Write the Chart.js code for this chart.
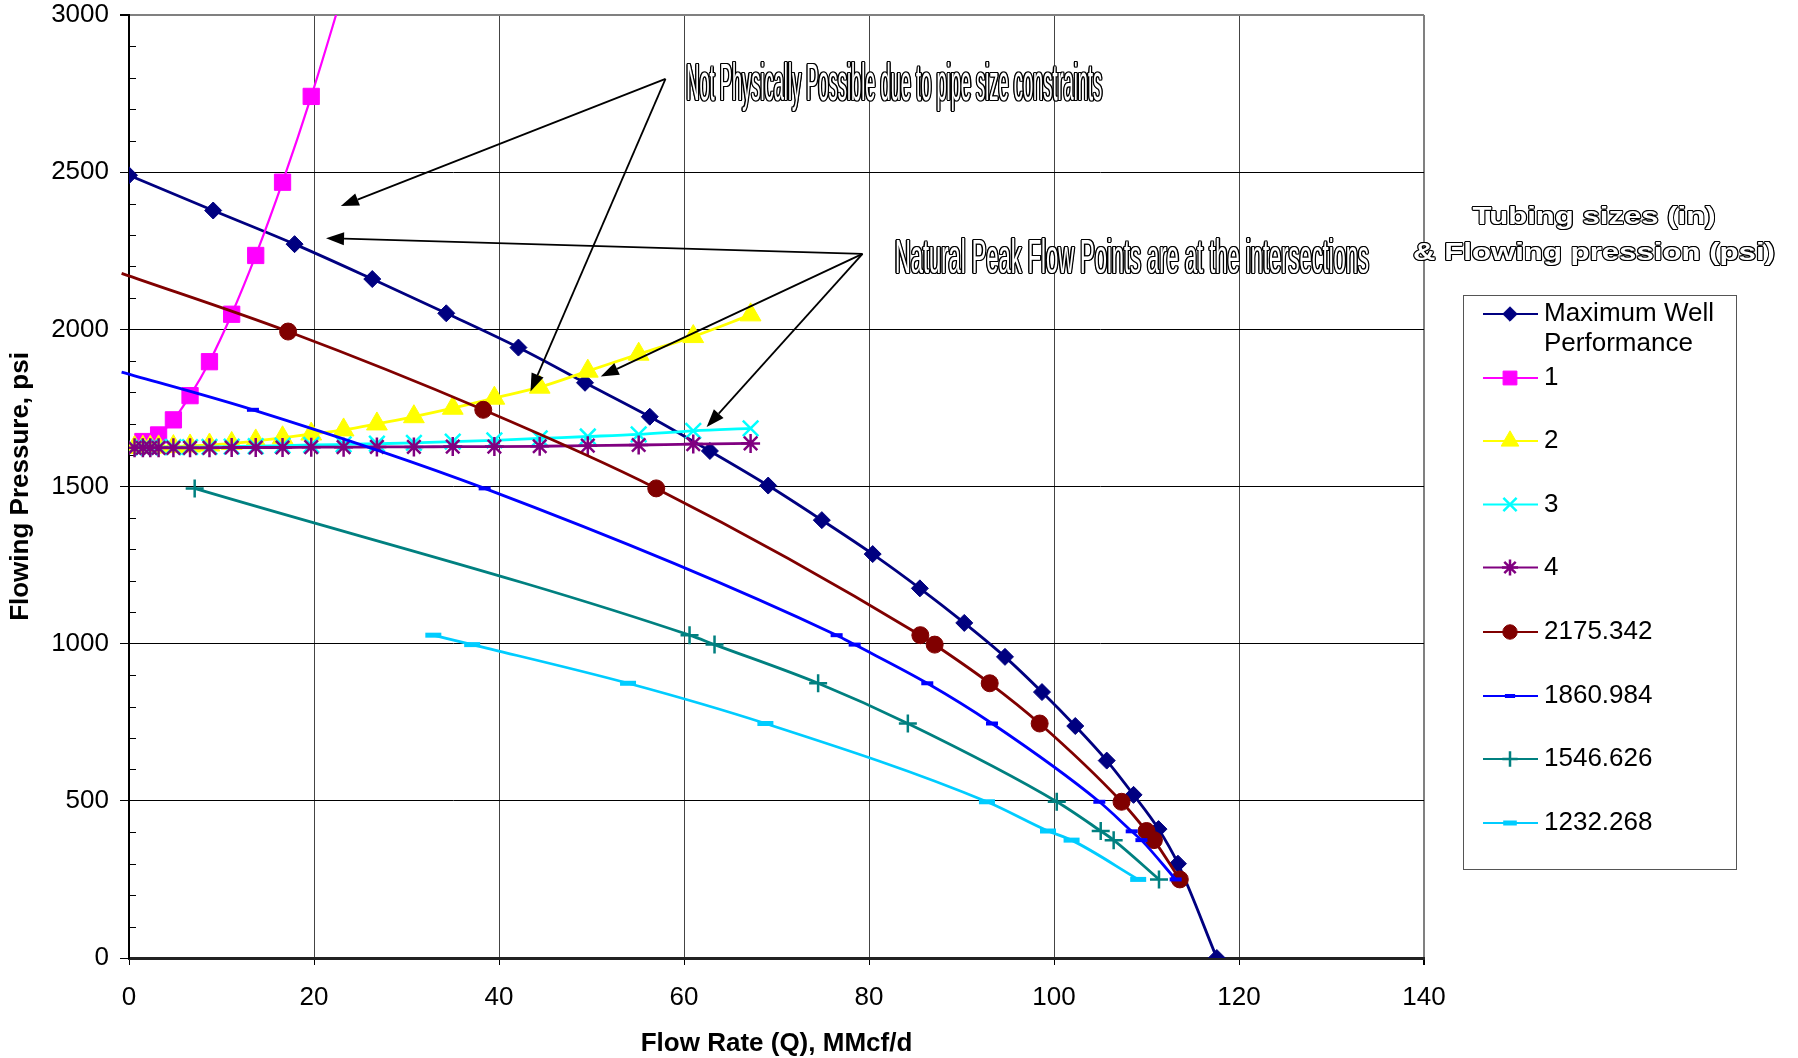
<!DOCTYPE html>
<html><head><meta charset="utf-8">
<script src="https://cdn.jsdelivr.net/npm/chart.js@4/dist/chart.umd.min.js"></script>
<style>html,body{margin:0;padding:0;background:#fff;overflow:hidden}canvas{display:block}</style>
</head><body>
<canvas id="c" width="1798" height="1058"></canvas>
<script>
// ---------------- DATA ----------------
const seriesNames = ['Maximum Well Performance', '1', '2', '3', '4', '2175.342', '1860.984', '1546.626', '1232.268'];
const xTicks = [0, 20, 40, 60, 80, 100, 120, 140];
const yTicks = [0, 500, 1000, 1500, 2000, 2500, 3000];

const mwpQ = [0, 9.1, 17.9, 26.3, 34.3, 42.1, 49.3, 56.3, 62.8, 69.1, 74.9, 80.4, 85.5, 90.3, 94.7, 98.7, 102.3, 105.7, 108.6, 111.3, 113.4, 117.6];
const mwpP = [2490, 2378, 2271, 2160, 2051, 1942, 1830, 1722, 1613, 1503, 1393, 1285, 1176, 1066, 958, 846, 738, 628, 519, 410, 300, 0];

const tube1Q = [1.5, 3.2, 4.8, 6.6, 8.7, 11.1, 13.7, 16.6, 19.7, 23.2];
const tube1P = [1643, 1664, 1712, 1789, 1897, 2048, 2235, 2468, 2741, 3080];

const tubeQ = [0.6, 1.5, 2.3, 3.2, 4.8, 6.6, 8.7, 11.1, 13.7, 16.6, 19.7, 23.2, 26.8, 30.8, 35.0, 39.5, 44.4, 49.6, 55.1, 61.0, 67.2];
const tube2P = [1624, 1625, 1625, 1626, 1627, 1629, 1632, 1637, 1645, 1655, 1667, 1680, 1699, 1722, 1749, 1781, 1816, 1867, 1921, 1977, 2046];
const tube3P = [1624, 1624, 1624, 1625, 1625, 1625, 1626, 1627, 1628, 1630, 1632, 1634, 1636, 1639, 1643, 1647, 1653, 1659, 1666, 1677, 1685];
const tube4P = [1623, 1623, 1623, 1623, 1623, 1623, 1623, 1624, 1624, 1624, 1625, 1625, 1626, 1626, 1627, 1627, 1628, 1630, 1632, 1635, 1637];

const p2175Q = [-0.8, 17.2, 38.3, 57.0, 85.55, 87.1, 93.05, 98.45, 107.3, 110.0, 110.8, 113.6];
const p2175P = [2178, 1993, 1744, 1494, 1027, 997, 874, 746, 497, 404, 375, 250];

const p1861Q = [-0.8, 13.4, 38.45, 76.5, 78.45, 86.3, 93.3, 104.9, 108.4, 109.45, 113.15];
const p1861P = [1864, 1744, 1494, 1027, 997, 874, 746, 497, 403, 375, 250];

const p1547Q = [7.1, 60.6, 63.3, 74.5, 84.2, 100.3, 105.05, 106.45, 111.35];
const p1547P = [1494, 1027, 997, 874, 746, 497, 404, 375, 250];

const p1232Q = [32.9, 37.1, 53.95, 68.8, 92.75, 99.35, 101.9, 109.1];
const p1232P = [1027, 997, 874, 746, 497, 404, 375, 250];

// annotation arrows (data coordinates)
const arrowFromQ = [58.0, 58.0, 79.3, 79.3, 79.3];
const arrowFromP = [2797, 2797, 2240, 2240, 2240];
const arrowToQ = [22.9, 43.4, 21.3, 51.0, 62.45];
const arrowToP = [2392, 1802, 2290, 1850, 1689];
const noteTexts = ['Not Physically Possible due to pipe size constraints', 'Natural Peak Flow Points are at the intersections'];
const noteQ = [60.24, 82.8];
const noteP = [2730, 2179];

const legendTitle = ['Tubing sizes (in)', '& Flowing pression (psi)'];

// ---------------- STYLE ----------------
Chart.defaults.font.family = "'Liberation Sans', Arial, sans-serif";
Chart.defaults.color = '#000';

const styles = [
  {color: '#000080', style: 'rectRot', r: 8.5, bw: 1, lw: 2.8},
  {color: '#FF00FF', style: 'rect', r: 11.5, bw: 1, lw: 2.2},
  {color: '#FFFF00', style: 'triangle', r: 12, bw: 1, lw: 2.8},
  {color: '#00FFFF', style: 'crossRot', r: 11, bw: 2.5, lw: 2.8},
  {color: '#800080', style: 'star', r: 9.5, bw: 2.5, lw: 2.8},
  {color: '#800000', style: 'circle', r: 8.5, bw: 1, lw: 2.8},
  {color: '#0000FF', style: 'line', r: 6, bw: 4, lw: 2.8},
  {color: '#008080', style: 'cross', r: 9, bw: 2.5, lw: 2.8},
  {color: '#00CCFF', style: 'line', r: 8, bw: 5, lw: 2.8}
];

const mk = (qs, ps) => qs.map((q, i) => ({x: q, y: ps[i]}));
const seriesData = [
  mk(mwpQ, mwpP), mk(tube1Q, tube1P), mk(tubeQ, tube2P), mk(tubeQ, tube3P), mk(tubeQ, tube4P),
  mk(p2175Q, p2175P), mk(p1861Q, p1861P), mk(p1547Q, p1547P), mk(p1232Q, p1232P)
];

const datasets = seriesData.map((d, i) => {
  const s = styles[i];
  const noFirst = (i === 5 || i === 6);
  const ds = {
    label: seriesNames[i], data: d,
    borderColor: s.color, backgroundColor: s.color,
    pointBorderColor: s.color, pointBackgroundColor: s.color,
    pointStyle: s.style,
    pointRadius: noFirst ? (c => c.dataIndex === 0 ? 0 : s.r) : s.r,
    pointHoverRadius: s.r,
    pointBorderWidth: s.bw, borderWidth: s.lw,
    cubicInterpolationMode: 'monotone',
    order: seriesData.length - 1 - i
  };
  if (noFirst) ds.clip = {left: 10, top: 0, right: 0, bottom: 0};
  return ds;
});

function outlinedText(ctx, text, x, y, font, targetW, align, off) {
  ctx.save();
  ctx.font = font;
  ctx.textAlign = align;
  ctx.textBaseline = 'alphabetic';
  const w = ctx.measureText(text).width;
  const sx = targetW / w;
  ctx.fillStyle = '#000';
  const offs = [[-off,0],[off,0],[0,-off],[0,off],[-off*0.7,-off*0.7],[off*0.7,-off*0.7],[-off*0.7,off*0.7],[off*0.7,off*0.7]];
  for (const [dx, dy] of offs) {
    ctx.save(); ctx.translate(x + dx, y + dy); ctx.scale(sx, 1); ctx.fillText(text, 0, 0); ctx.restore();
  }
  ctx.fillStyle = '#fff';
  ctx.save(); ctx.translate(x, y); ctx.scale(sx, 1); ctx.fillText(text, 0, 0); ctx.restore();
  ctx.restore();
}

function drawArrow(ctx, x1, y1, x2, y2) {
  const ang = Math.atan2(y2 - y1, x2 - x1);
  const len = 18, hw = 6.5;
  const bx = x2 - Math.cos(ang) * len, by = y2 - Math.sin(ang) * len;
  ctx.beginPath(); ctx.moveTo(x1, y1); ctx.lineTo(bx, by); ctx.stroke();
  ctx.beginPath();
  ctx.moveTo(x2, y2);
  ctx.lineTo(bx + Math.sin(ang) * hw, by - Math.cos(ang) * hw);
  ctx.lineTo(bx - Math.sin(ang) * hw, by + Math.cos(ang) * hw);
  ctx.closePath(); ctx.fill();
}

const decor = {
  id: 'decor',
  beforeDatasetsDraw(chart) {
    const ctx = chart.ctx, ys = chart.scales.y, a = chart.chartArea;
    ctx.save(); ctx.strokeStyle = '#000'; ctx.lineWidth = 1;
    for (let v = 100; v < 3000; v += 100) {
      if (v % 500 === 0) continue;
      const py = Math.round(ys.getPixelForValue(v)) + 0.5;
      ctx.beginPath(); ctx.moveTo(a.left, py); ctx.lineTo(a.left + 7, py); ctx.stroke();
    }
    ctx.restore();
  },
  afterDraw(chart) {
    const ctx = chart.ctx, xs = chart.scales.x, ys = chart.scales.y;
    ctx.save();
    ctx.strokeStyle = '#000'; ctx.fillStyle = '#000'; ctx.lineWidth = 1.8;
    for (let i = 0; i < arrowFromQ.length; i++) {
      drawArrow(ctx, xs.getPixelForValue(arrowFromQ[i]), ys.getPixelForValue(arrowFromP[i]),
        xs.getPixelForValue(arrowToQ[i]), ys.getPixelForValue(arrowToP[i]));
    }
    ctx.restore();
    const noteFont = ["52px 'Liberation Sans', Arial, sans-serif", "48px 'Liberation Sans', Arial, sans-serif"];
    const noteW = [416, 474];
    for (let i = 0; i < noteTexts.length; i++) {
      outlinedText(ctx, noteTexts[i], xs.getPixelForValue(noteQ[i]), ys.getPixelForValue(noteP[i]), noteFont[i], noteW[i], 'left', 1.3);
    }
    outlinedText(ctx, legendTitle[0], 1594, 224, "bold 24px 'Liberation Sans', Arial, sans-serif", 243, 'center', 1.2);
    outlinedText(ctx, legendTitle[1], 1594, 260, "bold 24px 'Liberation Sans', Arial, sans-serif", 362, 'center', 1.2);
    // legend box
    ctx.save();
    ctx.strokeStyle = '#555'; ctx.lineWidth = 1;
    ctx.strokeRect(1463.5, 295.5, 273, 574);
    const rowY = [314, 378, 441, 504.5, 567.5, 632, 696, 759, 823];
    ctx.font = "26px 'Liberation Sans', Arial, sans-serif";
    ctx.textBaseline = 'middle'; ctx.textAlign = 'left';
    for (let i = 0; i < seriesNames.length; i++) {
      const s = styles[i], y = rowY[i];
      ctx.strokeStyle = s.color; ctx.lineWidth = 2;
      ctx.beginPath(); ctx.moveTo(1483, y); ctx.lineTo(1538, y); ctx.stroke();
      ctx.fillStyle = s.color; ctx.strokeStyle = s.color; ctx.lineWidth = s.bw;
      Chart.helpers.drawPoint(ctx, {pointStyle: s.style, radius: s.r * 0.85, borderWidth: s.bw, rotation: 0}, 1510, y);
      ctx.fillStyle = '#000';
      if (i === 0) {
        ctx.fillText('Maximum Well', 1544, y);
        ctx.fillText('Performance', 1544, y + 30);
      } else {
        ctx.fillText(seriesNames[i], 1544, y);
      }
    }
    ctx.restore();
  }
};

new Chart(document.getElementById('c'), {
  type: 'line',
  data: {datasets},
  plugins: [decor],
  options: {
    responsive: false, animation: false, devicePixelRatio: 1, events: [],
    layout: {padding: {left: 0, top: 15, right: 374, bottom: 0}},
    plugins: {legend: {display: false}, tooltip: {enabled: false}},
    scales: {
      x: {
        type: 'linear', min: 0, max: 140,
        afterFit: s => { s.height = 100; s.paddingLeft = 0; s.paddingRight = 0; },
        afterBuildTicks: s => { s.ticks = xTicks.map(v => ({value: v})); },
        ticks: {font: {size: 26}, padding: 17, color: '#000', maxRotation: 0, autoSkip: false, callback: v => String(v)},
        grid: {
          color: c => (c.tick && c.tick.value === 140) ? '#808080' : '#444',
          lineWidth: c => (c.tick && c.tick.value === 140) ? 2 : 1,
          tickLength: 7, tickColor: '#000'
        },
        border: {color: '#222', width: 3},
        title: {display: true, text: 'Flow Rate (Q), MMcf/d', font: {size: 26, weight: 'bold'}, color: '#000', padding: {top: 0, bottom: -1}}
      },
      y: {
        type: 'linear', min: 0, max: 3000,
        afterFit: s => { s.width = 129; s.paddingTop = 0; s.paddingBottom = 0; },
        afterBuildTicks: s => { s.ticks = yTicks.map(v => ({value: v})); },
        ticks: {font: {size: 26}, padding: 11, color: '#000', autoSkip: false, callback: v => String(v)},
        grid: {
          color: c => (c.tick && c.tick.value === 3000) ? '#808080' : '#000',
          lineWidth: c => (c.tick && c.tick.value === 3000) ? 2 : 1,
          tickLength: 9, tickColor: '#000'
        },
        border: {color: '#000', width: 2},
        title: {display: true, text: 'Flowing Pressure, psi', font: {size: 26, weight: 'bold'}, color: '#000', padding: {top: 5, bottom: 0}}
      }
    }
  }
});
</script>
</body></html>
